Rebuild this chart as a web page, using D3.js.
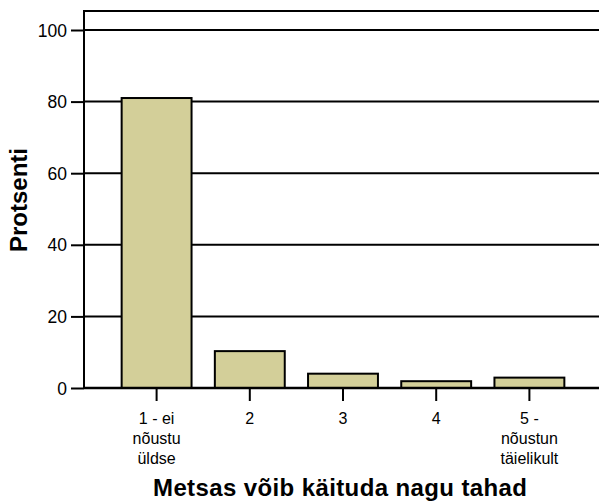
<!DOCTYPE html>
<html>
<head>
<meta charset="utf-8">
<script src="https://cdn.jsdelivr.net/npm/d3@7/dist/d3.min.js"></script>
<style>
  html, body { margin: 0; padding: 0; background: #fff; }
  svg { display: block; }
  text { font-family: Arial, "Liberation Sans", sans-serif; }
</style>
</head>
<body>
<svg id="chart" width="599" height="503"></svg>
<script>
// Data
const categories = ["1 - ei nõustu üldse", "2", "3", "4", "5 - nõustun täielikult"];
const categoryLines = [["1 - ei", "nõustu", "üldse"], ["2"], ["3"], ["4"], ["5 -", "nõustun", "täielikult"]];
const values = [81.0, 10.3, 4.0, 1.9, 2.9];
const yTicks = [0, 20, 40, 60, 80, 100];
const yTitle = "Protsenti";
const xTitle = "Metsas võib käituda nagu tahad";

(function () {
const svg = d3.select("#chart");
const pL = 84, pR = 599, pT = 11, pB = 388;
const FONT = "Arial, 'Liberation Sans', sans-serif";

const y = d3.scaleLinear().domain([0, 100]).range([pB, 30]);
const x = d3.scaleBand().domain(categories).range([110, 576]).paddingInner(0.25).paddingOuter(0.125);

// top border
svg.append("line").attr("x1", pL).attr("x2", pR).attr("y1", pT).attr("y2", pT)
  .attr("stroke", "#000").attr("stroke-width", 2);

// gridlines
svg.append("g").selectAll("line").data(yTicks).join("line")
  .attr("x1", pL).attr("x2", pR)
  .attr("y1", d => y(d)).attr("y2", d => y(d))
  .attr("stroke", "#000").attr("stroke-width", 2);

// y axis
const yAxis = svg.append("g").attr("transform", `translate(${pL},0)`)
  .call(d3.axisLeft(y).tickValues(yTicks).tickSize(13).tickPadding(4));
yAxis.attr("font-size", null).attr("font-family", null);
yAxis.select(".domain").remove();
yAxis.selectAll(".tick line").attr("stroke", "#000").attr("stroke-width", 2);
yAxis.selectAll(".tick text").attr("font-size", 17.5).attr("fill", "#000")
  .attr("font-family", FONT).attr("dy", "0.35em");

// left axis line
svg.append("line").attr("x1", pL).attr("x2", pL).attr("y1", pT - 1).attr("y2", pB + 1)
  .attr("stroke", "#000").attr("stroke-width", 2);

// bars
svg.append("g").selectAll("rect").data(values).join("rect")
  .attr("x", (d, i) => x(categories[i]))
  .attr("width", x.bandwidth())
  .attr("y", d => y(d))
  .attr("height", d => y(0) - y(d))
  .attr("fill", "#d3cf99")
  .attr("stroke", "#000").attr("stroke-width", 2);

// baseline
svg.append("line").attr("x1", pL).attr("x2", pR).attr("y1", y(0)).attr("y2", y(0))
  .attr("stroke", "#000").attr("stroke-width", 2.5);

// x axis
const xAxis = svg.append("g").attr("transform", `translate(0,${pB})`)
  .call(d3.axisBottom(x).tickSize(13).tickFormat(""));
xAxis.attr("font-size", null).attr("font-family", null);
xAxis.select(".domain").remove();
xAxis.selectAll(".tick line").attr("stroke", "#000").attr("stroke-width", 2);

xAxis.selectAll(".tick").each(function(d, i) {
  const t = d3.select(this).append("text")
    .attr("text-anchor", "middle").attr("font-size", 16).attr("fill", "#000")
    .attr("font-family", FONT);
  categoryLines[i].forEach((ln, j) => {
    t.append("tspan").attr("x", 0).attr("y", 36 + j * 20).text(ln);
  });
});

// y title
svg.append("text")
  .attr("transform", `translate(27,200) rotate(-90)`)
  .attr("text-anchor", "middle")
  .attr("font-size", 24).attr("font-weight", "bold").attr("fill", "#000")
  .attr("font-family", FONT)
  .text(yTitle);

// x title
svg.append("text")
  .attr("x", 153).attr("y", 496)
  .attr("font-size", 24).attr("font-weight", "bold").attr("fill", "#000")
  .attr("font-family", FONT)
  .attr("textLength", 374).attr("lengthAdjust", "spacing")
  .text(xTitle);
})();
</script>
</body>
</html>
